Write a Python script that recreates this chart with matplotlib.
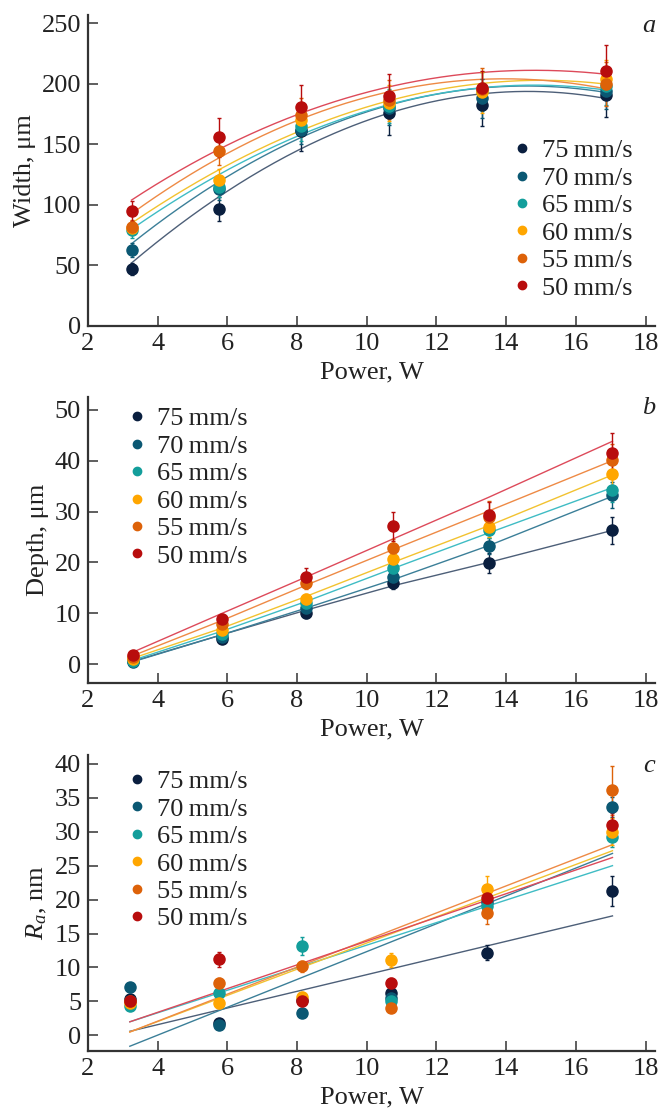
import numpy as np
import matplotlib
matplotlib.use("Agg")
import matplotlib.pyplot as plt
from matplotlib.lines import Line2D

plt.rcParams['font.family'] = ['Liberation Serif', 'DejaVu Serif']
plt.rcParams['mathtext.fontset'] = 'custom'
plt.rcParams['mathtext.rm'] = 'Liberation Serif'
plt.rcParams['mathtext.it'] = 'Liberation Serif:italic'
plt.rcParams['font.size'] = 19

# speeds (legend order) and colours
speeds = ['75', '70', '65', '60', '55', '50']
colors = ['#0a1f3f', '#0b5873', '#139e9b', '#ffa600', '#dd6209', '#b80d0d']
fit_colors = ['#4d5f78', '#3b7f98', '#3fbcc4', '#f2c230', '#ee8a45', '#dd4a5a']

# ---- panel a: width ----
x_a = [3.25, 5.75, 8.1, 10.65, 13.3, 16.85]
width = {
    '75': [47, 97, 161, 176, 183, 191],
    '70': [63, 113, 162, 180, 188, 194],
    '65': [79, 115, 165, 182, 194, 198],
    '60': [81, 121, 170, 184, 193, 204],
    '55': [82, 145, 174, 187, 196, 200],
    '50': [95, 156, 181, 190, 197, 211],
}
width_err = {
    '75': [5, 10, 16, 18, 18, 18],
    '70': [6, 9, 12, 14, 16, 15],
    '65': [6, 8, 12, 14, 16, 15],
    '60': [6, 9, 13, 15, 17, 16],
    '55': [6, 12, 14, 16, 17, 18],
    '50': [8, 16, 18, 18, 14, 21],
}
width_fit = {
    '75': [52, 107, 146, 176, 192, 188],
    '70': [68, 119, 156, 182, 197, 193],
    '65': [80, 125, 158, 183, 197, 195],
    '60': [85, 129, 161, 187, 200, 200],
    '55': [93, 138, 172, 193, 204, 196],
    '50': [104, 146, 176, 197, 210, 208],
}

# ---- panel b: depth ----
x_b = [3.3, 5.85, 8.25, 10.75, 13.5, 17.05]
depth = {
    '75': [0.6, 5.0, 10.1, 16.0, 19.9, 26.3],
    '70': [0.4, 5.3, 11.0, 17.2, 23.2, 33.2],
    '65': [0.7, 6.0, 12.0, 18.8, 26.3, 34.3],
    '60': [1.0, 6.8, 12.8, 20.6, 26.9, 37.3],
    '55': [1.4, 7.9, 16.0, 22.8, 29.0, 40.2],
    '50': [1.8, 8.9, 17.2, 27.1, 29.3, 41.4],
}
depth_err = {
    '75': [0.4, 0.8, 1.0, 1.3, 2.0, 2.7],
    '70': [0.4, 0.8, 1.0, 1.3, 1.5, 2.5],
    '65': [0.4, 0.8, 1.0, 1.3, 1.5, 2.5],
    '60': [0.4, 0.8, 1.0, 1.5, 2.0, 2.5],
    '55': [0.4, 0.9, 1.2, 1.8, 3.0, 3.0],
    '50': [0.5, 1.0, 1.6, 2.8, 2.5, 4.0],
}
depth_fit = {
    '75': [0.6, 5.8, 10.6, 15.4, 20.0, 26.3],
    '70': [0.5, 5.8, 11.0, 16.6, 23.3, 33.0],
    '65': [0.8, 6.5, 12.3, 18.8, 25.8, 34.7],
    '60': [1.2, 7.1, 13.3, 20.0, 27.2, 37.2],
    '55': [1.7, 8.6, 15.5, 22.5, 30.1, 40.0],
    '50': [2.4, 10.0, 17.1, 24.6, 32.8, 43.8],
}

# ---- panel c: roughness ----
x_c = [3.2, 5.75, 8.15, 10.7, 13.45, 17.05]
ra = {
    '75': [5.4, 1.8, 5.2, 6.3, 12.2, 21.3],
    '70': [7.1, 1.5, 3.3, 5.5, 19.6, 33.6],
    '65': [4.4, 6.3, 13.2, 5.0, 19.0, 29.2],
    '60': [4.7, 4.8, 5.6, 11.1, 21.5, 30.0],
    '55': [5.0, 7.7, 10.2, 4.0, 18.1, 36.1],
    '50': [5.1, 11.2, 5.1, 7.7, 20.2, 31.0],
}
ra_err = {
    '75': [0.5, 0.5, 0.5, 0.6, 1.1, 2.2],
    '70': [0.5, 0.5, 0.5, 0.6, 1.0, 1.5],
    '65': [0.5, 0.6, 1.3, 0.6, 1.0, 1.5],
    '60': [0.5, 0.8, 0.8, 1.1, 2.0, 2.0],
    '55': [0.5, 0.8, 0.8, 0.6, 1.7, 3.6],
    '50': [0.5, 1.1, 0.6, 0.8, 1.2, 1.8],
}
ra_fit_x = [3.2, 17.05]
ra_fit = {
    '75': [0.6, 17.6],
    '70': [-1.6, 26.8],
    '65': [2.0, 25.0],
    '60': [0.5, 27.2],
    '55': [0.5, 28.1],
    '50': [2.0, 26.2],
}

W, H = 658, 1113
fig = plt.figure(figsize=(W / 100, H / 100), dpi=100)


def make_axes(top, bottom):
    return fig.add_axes([88 / W, 1 - bottom / H, 567 / W, (bottom - top) / H])


def style(ax, ylim, yticks, ylabel, letter):
    ax.set_xlim(2, 18.27)
    ax.set_ylim(*ylim)
    ax.set_xticks(range(2, 19, 2))
    ax.set_yticks(yticks)
    for s in ['top', 'right']:
        ax.spines[s].set_visible(False)
    for s in ['left', 'bottom']:
        ax.spines[s].set_linewidth(1.6)
        ax.spines[s].set_color('#333333')
    ax.tick_params(direction='in', length=7.5, width=1.1, color='#333333',
                   labelcolor='#222222')
    ax.tick_params(axis='x', pad=5)
    ax.tick_params(axis='y', pad=5)
    ax.set_xlabel('Power, W', labelpad=5, color='#222222')
    ax.set_ylabel(ylabel, labelpad=4, color='#222222')
    ax.text(1.0, 1.0, letter, transform=ax.transAxes, ha='right', va='top',
            style='italic', fontsize=19, color='#222222')


def add_legend(ax, **kw):
    handles = [Line2D([], [], marker='o', ls='none', color=c, markersize=6)
               for c in colors]
    labels = [s + '\u2009mm/s' for s in speeds]
    ax.legend(handles, labels, frameon=False, handlelength=0.8,
              handletextpad=0.35, labelspacing=0.15, borderpad=0,
              borderaxespad=0, fontsize=19, labelcolor='#222222', **kw)


def points(ax, x, vals, errs):
    for s, c in zip(speeds, colors):
        ax.errorbar(x, vals[s], yerr=errs[s], fmt='o', color=c, markersize=8,
                    elinewidth=1, capsize=1.5, capthick=1, zorder=3)


# panel a
ax_a = make_axes(15, 326)
for s, fc in zip(speeds, fit_colors):
    coef = np.polyfit(x_a, width_fit[s], 3)
    xx = np.linspace(x_a[0], x_a[-1], 200)
    ax_a.plot(xx, np.polyval(coef, xx), color=fc, lw=1.0, zorder=2)
points(ax_a, x_a, width, width_err)
style(ax_a, (0, 257), range(0, 251, 50), 'Width, μm', 'a')
add_legend(ax_a, loc='lower right', bbox_to_anchor=(0.96, 0.085))

# panel b
ax_b = make_axes(397, 683)
for s, fc in zip(speeds, fit_colors):
    ax_b.plot(x_b, depth_fit[s], color=fc, lw=1.0, zorder=2)
points(ax_b, x_b, depth, depth_err)
style(ax_b, (-3.7, 52.5), range(0, 51, 10), 'Depth, μm', 'b')
add_legend(ax_b, loc='upper left', bbox_to_anchor=(0.068, 0.965))

# panel c
ax_c = make_axes(755, 1051)
for s, fc in zip(speeds, fit_colors):
    ax_c.plot(ra_fit_x, ra_fit[s], color=fc, lw=1.0, zorder=2)
points(ax_c, x_c, ra, ra_err)
style(ax_c, (-2.3, 41.3), range(0, 41, 5), '$R_a$, nm', 'c')
add_legend(ax_c, loc='upper left', bbox_to_anchor=(0.068, 0.95))

fig.savefig('out.png', dpi=100)
